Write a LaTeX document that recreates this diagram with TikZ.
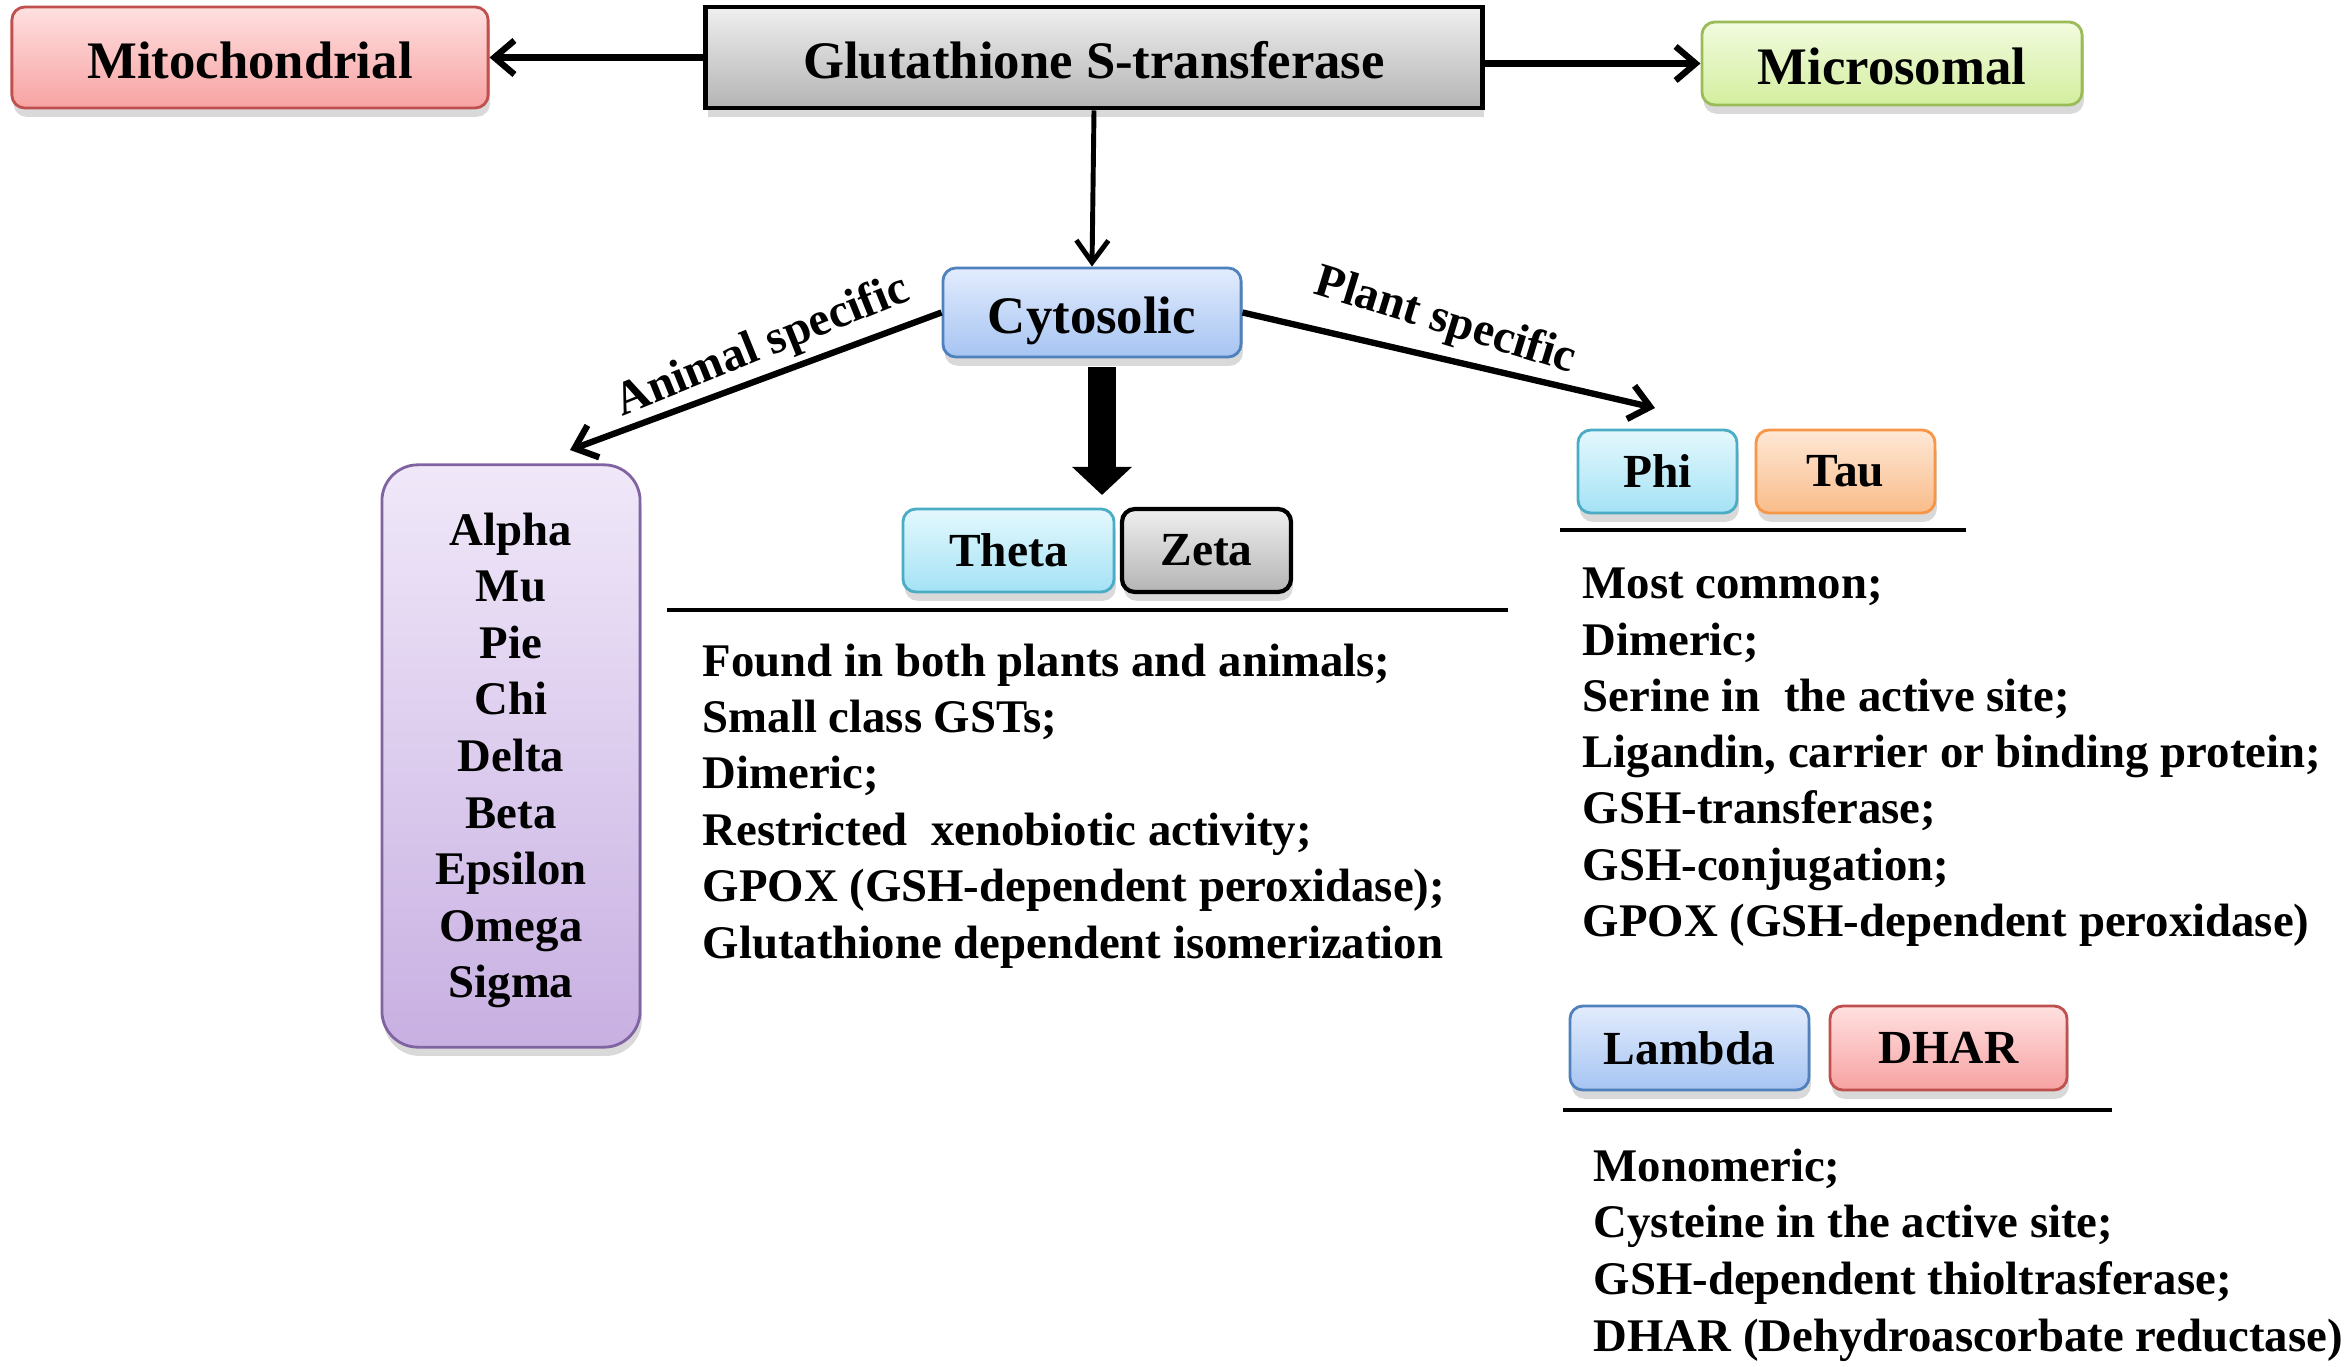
\documentclass[tikz,border=0pt]{standalone}
\usepackage{fontspec}
\setmainfont{Liberation Serif}
\usetikzlibrary{arrows.meta}
\usetikzlibrary{shadows}

\definecolor{redtop}{HTML}{FFE0E0}
\definecolor{redbot}{HTML}{F7A2A2}
\definecolor{redline}{HTML}{C0504D}
\definecolor{graytop}{HTML}{EFEFEF}
\definecolor{graybot}{HTML}{B4B4B4}
\definecolor{greentop}{HTML}{F2FBDF}
\definecolor{greenbot}{HTML}{D3EE9E}
\definecolor{greenline}{HTML}{9BBB59}
\definecolor{bluetop}{HTML}{E2ECFD}
\definecolor{bluebot}{HTML}{A6C4F2}
\definecolor{blueline}{HTML}{4F81BD}
\definecolor{purpletop}{HTML}{F0E8F9}
\definecolor{purplebot}{HTML}{C8B0E2}
\definecolor{purpleline}{HTML}{8064A2}
\definecolor{cyantop}{HTML}{E4F8FD}
\definecolor{cyanbot}{HTML}{A4E2F5}
\definecolor{cyanline}{HTML}{4BACC6}
\definecolor{orangetop}{HTML}{FEE8D6}
\definecolor{orangebot}{HTML}{F9BC8A}
\definecolor{orangeline}{HTML}{F79646}

\tikzset{
  box/.style={rounded corners=0.13cm, draw, line width=0.8pt, inner sep=0pt,
    drop shadow={shadow xshift=0.5pt, shadow yshift=-2.5pt, opacity=0.3}},
  topbox/.style={box, font=\fontsize{15}{18}\selectfont\bfseries, text height=13.5pt, text depth=1.5pt},
  classbox/.style={box, font=\fontsize{13.5}{16}\selectfont\bfseries, minimum height=0.83cm},
  bodytext/.style={font=\fontsize{13.3}{16}\selectfont\bfseries, inner sep=0pt},
  redbox/.style={draw=redline, top color=redtop, bottom color=redbot},
  graybox/.style={draw=black, line width=1.4pt, top color=graytop, bottom color=graybot},
  greenbox/.style={draw=greenline, top color=greentop, bottom color=greenbot},
  bluebox/.style={draw=blueline, top color=bluetop, bottom color=bluebot},
  purplebox/.style={draw=purpleline, top color=purpletop, bottom color=purplebot},
  cyanbox/.style={draw=cyanline, top color=cyantop, bottom color=cyanbot},
  orangebox/.style={draw=orangeline, top color=orangetop, bottom color=orangebot},
  arr/.style={-{Straight Barb[length=0.2cm,width=0.34cm]}, line width=1.8pt},
  thinarr/.style={-{Straight Barb[length=0.22cm,width=0.32cm]}, line width=1.4pt},
  fatarr/.style={-{Triangle[length=0.28cm,width=0.58cm]}, line width=0.28cm},
  rule/.style={line width=0.9pt}
}

\begin{document}
\begin{tikzpicture}[x={(0.01cm,0)}, y={(0,-0.01cm)}]
  \useasboundingbox (0,0) rectangle (2351,1367);

  \node[topbox, redbox, minimum width=4.76cm, minimum height=1.01cm] (mito) at (250,57.5) {Mitochondrial};
  \node[topbox, graybox, rounded corners=0pt, minimum width=7.76cm, minimum height=1.01cm] (gst) at (1094,57.5) {Glutathione S-transferase};
  \node[topbox, greenbox, minimum width=3.80cm, minimum height=0.83cm] (micro) at (1892,63.5) {Microsomal};
  \node[topbox, bluebox, minimum width=2.98cm, minimum height=0.89cm] (cyto) at (1092,312.5) {Cytosolic};

  \node[box, purplebox, rounded corners=0.36cm, minimum width=2.58cm, minimum height=5.82cm] (animal) at (511,756) {};
  \node[classbox, cyanbox, minimum width=2.11cm] (theta) at (1008.5,550.5) {Theta};
  \node[classbox, graybox, line width=1.2pt, rounded corners=0.13cm, minimum width=1.69cm] (zeta) at (1206.5,550.5) {Zeta};
  \node[classbox, cyanbox, minimum width=1.59cm] (phi) at (1657.5,471.5) {Phi};
  \node[classbox, orangebox, minimum width=1.79cm] (tau) at (1845.5,471.5) {Tau};
  \node[classbox, bluebox, minimum width=2.39cm, minimum height=0.84cm] (lambda) at (1689.5,1048) {Lambda};
  \node[classbox, redbox, minimum width=2.37cm, minimum height=0.84cm] (dhar) at (1948.5,1048) {DHAR};

  \coordinate (animtip) at (570,450);
  \coordinate (planttip) at (1655,408);
  \coordinate (fattip) at (1102,495);

  \draw[arr] (gst.west) -- (mito.east);
  \draw[arr] (gst.east |- micro.west) -- (micro.west);
  \draw[thinarr] (gst.south) -- (cyto.north);
  \draw[arr] (cyto.west) -- (animtip);
  \draw[arr] (cyto.east) -- (planttip);
  \draw[fatarr, shorten <=0.09cm] (cyto.south -| fattip) -- (fattip);

  \node[bodytext, font=\fontsize{13.5}{16}\selectfont\bfseries, rotate=22] (animlbl) at (763,347) {Animal specific};
  \node[bodytext, font=\fontsize{13.5}{16}\selectfont\bfseries, rotate=-17] (plantlbl) at (1445,322) {Plant specific};

  \foreach \t [count=\i from 0] in {Alpha, Mu, Pie, Chi, Delta, Beta, Epsilon, Omega, Sigma}
    \node[bodytext, anchor=base] (cls\i) at (511,{545.5+56.5*\i}) {\t};

  \draw[rule] (667,610) -- (1508,610);
  \draw[rule] (1560,530) -- (1966,530);
  \draw[rule] (1563,1110) -- (2112,1110);

  \foreach \t [count=\i from 0] in {Found in both plants and animals;, Small class GSTs;, Dimeric;,
      Restricted\ \ xenobiotic activity;, GPOX (GSH-dependent peroxidase);, Glutathione dependent isomerization}
    \node[bodytext, anchor=base west] (tz\i) at (702,{676+56.4*\i}) {\t};

  \foreach \t [count=\i from 0] in {Most common;, Dimeric;, Serine in\ \ the active site;,
      {Ligandin, carrier or binding protein;}, GSH-transferase;, GSH-conjugation;, GPOX (GSH-dependent peroxidase)}
    \node[bodytext, anchor=base west] (pt\i) at (1582,{599+56.2*\i}) {\t};

  \foreach \t [count=\i from 0] in {Monomeric;, Cysteine in the active site;, GSH-dependent thioltrasferase;,
      DHAR (Dehydroascorbate reductase)}
    \node[bodytext, anchor=base west] (ld\i) at (1593,{1181+56.7*\i}) {\t};
\end{tikzpicture}
\end{document}
